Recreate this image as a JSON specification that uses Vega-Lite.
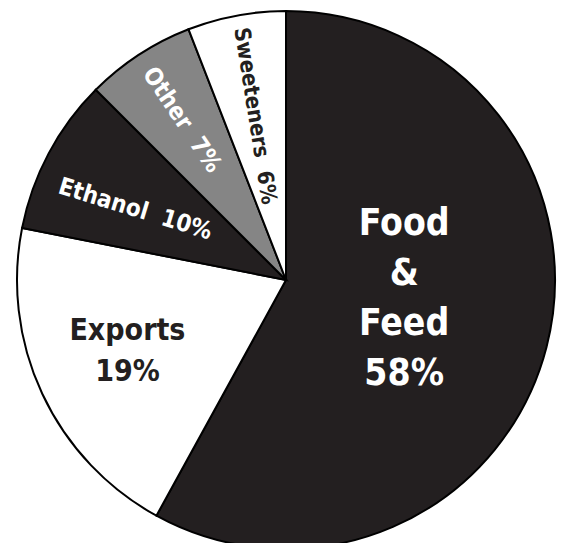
{
  "$schema": "https://vega.github.io/schema/vega-lite/v6.json",
  "width": 572,
  "height": 560,
  "padding": 0,
  "autosize": "none",
  "background": "white",
  "config": {"view": {"stroke": null}, "text": {"font": "DejaVu Sans Condensed, Liberation Sans, sans-serif", "fontWeight": "bold"}},
  "data": {"values": [
    {"category": "Food & Feed", "share": 58, "rank": 1, "label": "Food\n&\nFeed\n58%"},
    {"category": "Exports", "share": 20.1, "rank": 2, "label": "Exports\n19%"},
    {"category": "Ethanol", "share": 9.4, "rank": 3, "label": "Ethanol\u00a0\u00a010%"},
    {"category": "Other", "share": 6.6, "rank": 4, "label": "Other\u00a0\u00a07%"},
    {"category": "Sweeteners", "share": 5.9, "rank": 5, "label": "Sweeteners\u00a0\u00a06%"}
  ]},
  "encoding": {
    "theta": {"field": "share", "type": "quantitative", "stack": true},
    "order": {"field": "rank", "type": "quantitative"}
  },
  "layer": [
    {
      "mark": {"type": "arc", "outerRadius": 269, "stroke": "#000000", "strokeWidth": 2},
      "encoding": {
        "color": {
          "field": "category", "type": "nominal",
          "scale": {"domain": ["Food & Feed", "Exports", "Ethanol", "Other", "Sweeteners"], "range": ["#231f20", "#ffffff", "#231f20", "#858585", "#ffffff"]},
          "legend": null
        }
      }
    },
    {
      "mark": {"type": "text", "radius": 122, "dy": -86, "fontSize": 37, "fill": "#ffffff", "lineBreak": "\n", "lineHeight": 50, "align": "center", "baseline": "middle"},
      "encoding": {"text": {"condition": {"test": "datum.category === 'Food & Feed'", "field": "label"}, "value": ""}}
    },
    {
      "mark": {"type": "text", "radius": 175, "dy": -23, "fontSize": 30, "fill": "#231f20", "lineBreak": "\n", "lineHeight": 41, "align": "center", "baseline": "middle"},
      "encoding": {"text": {"condition": {"test": "datum.category === 'Exports'", "field": "label"}, "value": ""}}
    },
    {
      "mark": {"type": "text", "radius": 168, "dy": 9, "angle": 17, "fontSize": 24, "fill": "#ffffff", "align": "center", "baseline": "middle"},
      "encoding": {"text": {"condition": {"test": "datum.category === 'Ethanol'", "field": "label"}, "value": ""}}
    },
    {
      "mark": {"type": "text", "radius": 186, "dx": -5, "angle": 56, "fontSize": 24, "fill": "#ffffff", "align": "center", "baseline": "middle"},
      "encoding": {"text": {"condition": {"test": "datum.category === 'Other'", "field": "label"}, "value": ""}}
    },
    {
      "mark": {"type": "text", "radius": 168, "dx": 1, "angle": 81, "fontSize": 22, "fill": "#231f20", "align": "center", "baseline": "middle"},
      "encoding": {"text": {"condition": {"test": "datum.category === 'Sweeteners'", "field": "label"}, "value": ""}}
    }
  ]
}
